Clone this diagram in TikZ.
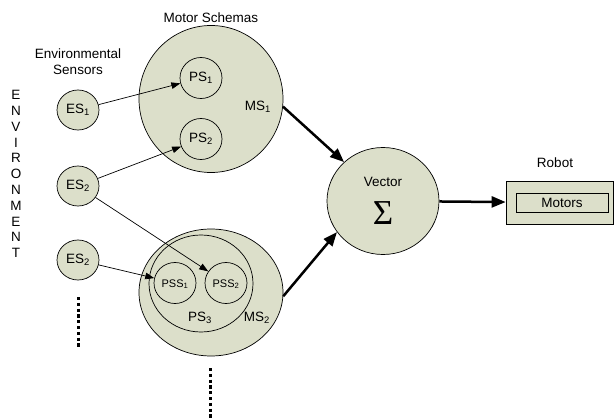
\documentclass[tikz,border=0pt]{standalone}
\usepackage{fontspec}
\setmainfont{Liberation Sans}
\newfontfamily\sigfont{Liberation Serif}
\usetikzlibrary{shapes.geometric,arrows.meta}
\definecolor{olivefill}{RGB}{220,223,202}
\newcommand{\sbs}[1]{\textsubscript{#1}}
\tikzset{
  x=1pt, y=-1pt,
  lbl/.style={font=\fontsize{13.5}{16}\selectfont, inner sep=0pt},
  smalllbl/.style={font=\fontsize{11}{12}\selectfont, inner sep=0pt},
  blob/.style={ellipse, draw=black, line width=0.7pt, fill=olivefill, inner sep=0pt,
     font=\fontsize{13.5}{16}\selectfont},
  thinarrow/.style={line width=0.7pt, -{Triangle[length=9pt,width=6.5pt]}},
  thickarrow/.style={line width=2.5pt, -{Triangle[length=14pt,width=11pt]}},
  dots/.style={line width=3pt, dash pattern=on 3.2pt off 2.6pt}
}
\begin{document}
\begin{tikzpicture}
\useasboundingbox (0,0) rectangle (614,420);
% big circles
\node[blob, minimum width=144pt, minimum height=147pt] (ms1) at (211,99) {};
\node[blob, minimum width=144pt, minimum height=127pt] (ms2) at (211,292.5) {};
\node[blob, minimum width=104pt, minimum height=97pt] (ps3) at (201,283.5) {};
\node[blob, minimum width=42pt, minimum height=41pt] (pss1) at (175,283) {};
\node[blob, minimum width=42pt, minimum height=41pt] (pss2) at (226,283) {};
\node[smalllbl] (pss1t) at (175,284) {PSS\sbs{1}};
\node[smalllbl] (pss2t) at (226,284) {PSS\sbs{2}};
\node[blob, minimum width=42pt, minimum height=41pt] (ps1) at (201,78) {PS\sbs{1}};
\node[blob, minimum width=42pt, minimum height=41pt] (ps2) at (201,139) {PS\sbs{2}};
\node[blob, minimum width=42pt, minimum height=40pt] (es1) at (78,110) {ES\sbs{1}};
\node[blob, minimum width=42pt, minimum height=40pt] (es2) at (78,186) {ES\sbs{2}};
\node[blob, minimum width=42pt, minimum height=40pt] (es3) at (78,260) {ES\sbs{2}};
\node[blob, minimum width=112pt, minimum height=107pt] (vec) at (383,201) {};
\node[lbl] (vect) at (383,182) {Vector};
\node[inner sep=0pt, font=\sigfont\fontsize{35}{35}\selectfont] (sig) at (383,213) {Σ};
% robot
\node[draw=black, line width=0.7pt, fill=olivefill, minimum width=107pt, minimum height=43pt, inner sep=0pt] (robot) at (559.5,202.5) {};
\node[draw=black, line width=0.7pt, minimum width=92pt, minimum height=19pt, inner sep=0pt, lbl] (motors) at (562,202.5) {Motors};
% labels
\node[lbl] (msch) at (211,18) {Motor Schemas};
\node[lbl, align=center] (envs) at (78,62) {Environmental\\Sensors};
\node[lbl] (ms1t) at (258,107) {MS\sbs{1}};
\node[lbl] (ms2t) at (257,318) {MS\sbs{2}};
\node[lbl] (ps3t) at (200,318) {PS\sbs{3}};
\node[lbl] (robt) at (555,163) {Robot};
\foreach \ch [count=\i] in {E,N,V,I,R,O,N,M,E,N,T}{
  \node[lbl] (env\i) at (16,{95+15.8*(\i-1)}) {\ch};
}
% thin arrows
\draw[thinarrow] (es1) -- (ps1);
\draw[thinarrow] (es2) -- (ps2);
\draw[thinarrow] (es2) -- (pss2);
\draw[thinarrow] (es3) -- (pss1);
% thick arrows
\draw[thickarrow] (ms1.-6) -- (vec.135);
\draw[thickarrow] (ms2.-3) -- (vec.214);
\draw[thickarrow] (vec) -- (robot);
% dotted continuation marks
\coordinate (d1a) at (78,297);
\coordinate (d1b) at (78,347);
\coordinate (d2a) at (210,368);
\coordinate (d2b) at (210,420);
\draw[dots] (d1a) -- (d1b);
\draw[dots] (d2a) -- (d2b);
\end{tikzpicture}
\end{document}
